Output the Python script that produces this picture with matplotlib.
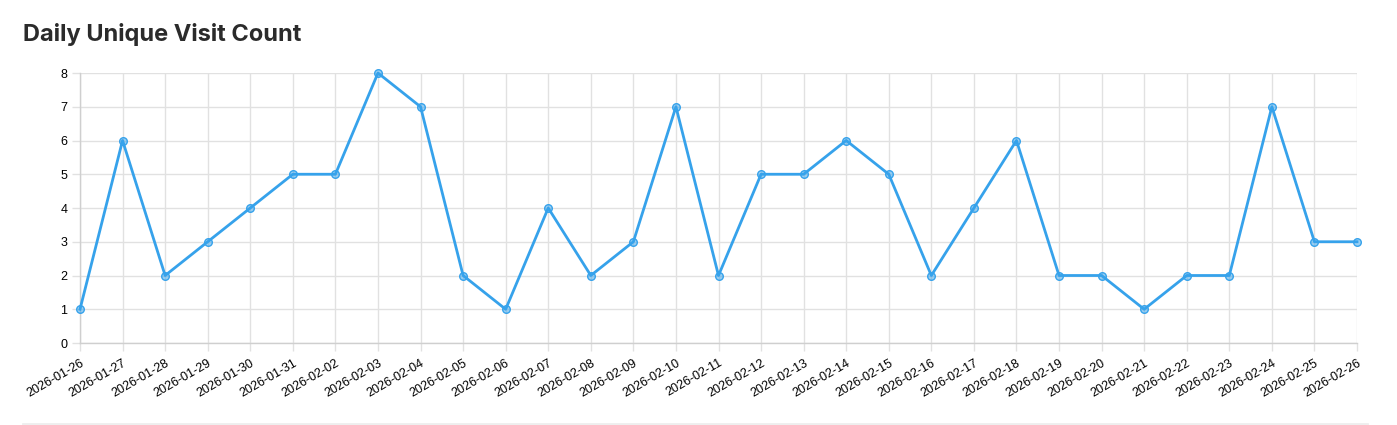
import matplotlib
matplotlib.use("Agg")
import matplotlib.pyplot as plt

dates = ["2026-01-26", "2026-01-27", "2026-01-28", "2026-01-29", "2026-01-30",
         "2026-01-31", "2026-02-02", "2026-02-03", "2026-02-04", "2026-02-05",
         "2026-02-06", "2026-02-07", "2026-02-08", "2026-02-09", "2026-02-10",
         "2026-02-11", "2026-02-12", "2026-02-13", "2026-02-14", "2026-02-15",
         "2026-02-16", "2026-02-17", "2026-02-18", "2026-02-19", "2026-02-20",
         "2026-02-21", "2026-02-22", "2026-02-23", "2026-02-24", "2026-02-25",
         "2026-02-26"]
visits = [1, 6, 2, 3, 4, 5, 5, 8, 7, 2, 1, 4, 2, 3, 7, 2, 5, 5, 6, 5, 2, 4, 6,
          2, 2, 1, 2, 2, 7, 3, 3]
y_ticks = [0, 1, 2, 3, 4, 5, 6, 7, 8]

line_color = "#36A2EB"
grid_color = "#e1e1e1"

plt.rcParams["font.family"] = ["Liberation Sans", "DejaVu Sans"]

fig = plt.figure(figsize=(13.97, 4.25), dpi=100)
ax = fig.add_axes([80 / 1397, 82 / 425, 1277 / 1397, 270 / 425])

x = list(range(len(dates)))
ax.plot(x, visits, color=line_color, lw=2, zorder=3, clip_on=False)
ax.scatter(x, visits, s=30, facecolor=(54 / 255, 162 / 255, 235 / 255, 0.5),
           edgecolor=line_color, linewidth=1, zorder=4, clip_on=False)

ax.set_xlim(0, len(dates) - 1)
ax.set_ylim(0, 8)
ax.set_yticks(y_ticks)
ax.set_xticks(x)
ax.set_xticklabels(dates, rotation=30, ha="right", rotation_mode="anchor")
ax.tick_params(axis="both", labelsize=9, colors="#000000", length=6,
               width=1, color=grid_color, pad=3)
ax.tick_params(axis="x", pad=4)
ax.grid(True, color=grid_color, lw=1)
ax.set_axisbelow(True)
for side in ["top", "right"]:
    ax.spines[side].set_visible(False)
for side in ["left", "bottom"]:
    ax.spines[side].set_color("#cfcfcf")
    ax.spines[side].set_linewidth(1)

fig.text(23 / 1397, 1 - 35 / 425, "Daily Unique Visit Count",
         fontsize=17, fontweight="bold", color="#2b2b2b",
         family=["Inter", "DejaVu Sans"], va="center", ha="left")

fig.add_artist(plt.Line2D([23 / 1397, 1367 / 1397], [1.5 / 425, 1.5 / 425],
                          color="#eeeeee", lw=2))

fig.savefig("out.png", dpi=100)
